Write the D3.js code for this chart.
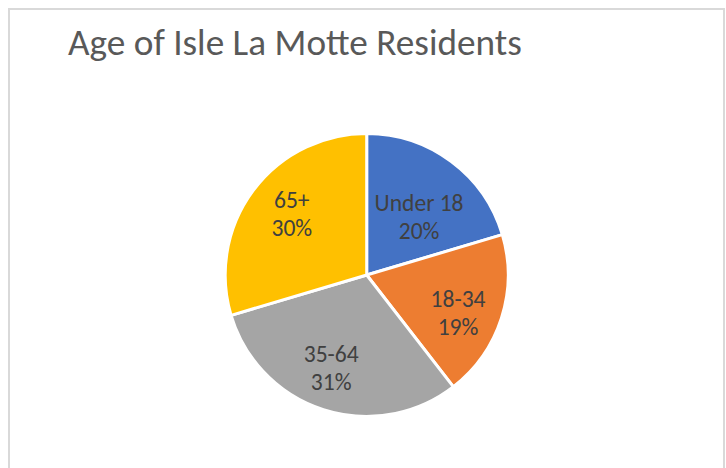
<!DOCTYPE html>
<html><head><meta charset="utf-8">
<script src="https://cdn.jsdelivr.net/npm/d3@7"></script>
<style>html,body{margin:0;padding:0;background:#fff;overflow:hidden}</style>
</head><body>
<svg id="c" width="726" height="468"></svg>
<script>
const title = "Age of Isle La Motte Residents";
const categories = ["Under 18", "18-34", "35-64", "65+"];
const values = [20.4, 19.1, 30.9, 29.6];
const colors = ["#4472C4", "#ED7D31", "#A5A5A5", "#FFC000"];

const svg = d3.select("#c");
const FONT = "Carlito, 'Open Sans', sans-serif";

svg.append("rect").attr("x", 9).attr("y", 9).attr("width", 715).attr("height", 470)
  .attr("fill", "#fff").attr("stroke", "#D9D9D9").attr("stroke-width", 2);

const t = svg.append("text").attr("x", 68).attr("y", 55).text(title)
  .attr("fill", "#595959").attr("font-family", FONT).attr("font-size", 31);
let tw = t.node().getComputedTextLength();
t.attr("font-size", 31 * 454 / tw);

const cx = 366.7, cy = 275, R = 141.5;
const total = d3.sum(values);
const pie = d3.pie().sort(null).value(d => d)(values);
const arc = d3.arc().innerRadius(0).outerRadius(R);
const g = svg.append("g").attr("transform", `translate(${cx},${cy})`);
g.selectAll("path").data(pie).join("path")
  .attr("d", arc).attr("fill", (d, i) => colors[i])
  .attr("stroke", "#fff").attr("stroke-width", 3).attr("stroke-linejoin", "round");

// label placement (best-fit style: first label pulled inward)
function labelPos(d, i) {
  const a = (d.startAngle + d.endAngle) / 2;
  let r = 98, ang = a + 0.06;
  if (i === 0) { r = 79.6; ang = a + 0.077; }
  return [Math.sin(ang) * r, -Math.cos(ang) * r];
}
const probe = svg.append("text").attr("font-family", FONT).attr("font-size", 20).text("Under 18");
const fs = 20 * 89 / probe.node().getComputedTextLength();
probe.remove();

const lbl = g.selectAll("text.l").data(pie).join("text").attr("class", "l")
  .attr("font-family", FONT).attr("font-size", fs).attr("fill", "#404040")
  .attr("text-anchor", "middle")
  .attr("transform", (d, i) => `translate(${labelPos(d, i)})`);
lbl.append("tspan").attr("x", 0).attr("y", -4).text((d, i) => categories[i]);
lbl.append("tspan").attr("x", 0).attr("y", 24).text(d => Math.round(d.value / total * 100) + "%");
</script>
</body></html>
